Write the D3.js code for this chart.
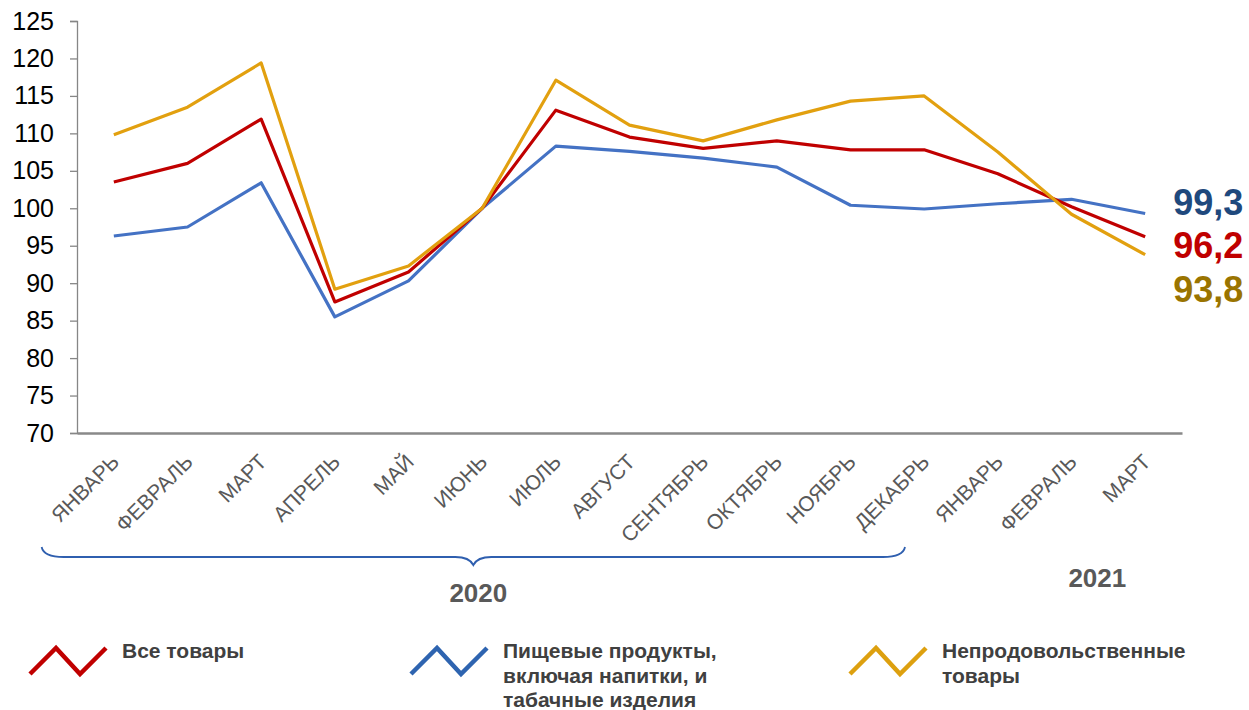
<!DOCTYPE html>
<html><head><meta charset="utf-8">
<script src="https://cdn.jsdelivr.net/npm/d3@7"></script>
<style>body{margin:0;background:#fff}svg{display:block}text{font-family:"Liberation Sans",Arial,sans-serif}</style>
</head><body>
<script>
const categories = ["ЯНВАРЬ","ФЕВРАЛЬ","МАРТ","АПРЕЛЬ","МАЙ","ИЮНЬ","ИЮЛЬ","АВГУСТ","СЕНТЯБРЬ","ОКТЯБРЬ","НОЯБРЬ","ДЕКАБРЬ","ЯНВАРЬ","ФЕВРАЛЬ","МАРТ"];
const allGoods   = [103.5,106.0,111.9,87.5,91.5,100.0,113.1,109.5,108.0,109.0,107.8,107.8,104.6,100.2,96.2];
const foodGoods  = [96.3,97.5,103.4,85.5,90.3,100.0,108.3,107.6,106.7,105.5,100.4,99.9,100.6,101.2,99.3];
const nonFood    = [109.8,113.5,119.4,89.2,92.3,100.0,117.1,111.1,109.0,111.8,114.3,115.0,107.5,99.2,93.8];
const yTicks = [70,75,80,85,90,95,100,105,110,115,120,125];
const endLabels = ["99,3","96,2","93,8"];
const seriesNames = ["Все товары", ["Пищевые продукты,","включая напитки, и","табачные изделия"], ["Непродовольственные","товары"]];
const years = ["2020","2021"];

const W = 1249, H = 710;
const svg = d3.select("body").append("svg").attr("width", W).attr("height", H);

const x = d3.scalePoint().domain(d3.range(categories.length)).range([77, 1182]).padding(0.5);
const y = d3.scaleLinear().domain([70, 125]).range([433, 21]);
const step = x.step();

// y axis
const yAxis = svg.append("g").attr("transform", "translate(77,0)")
  .call(d3.axisLeft(y).tickValues(yTicks).tickSize(7).tickPadding(16).tickFormat(d3.format("d")));
yAxis.select(".domain").attr("stroke", "#868686").attr("stroke-width", 1.3);
yAxis.selectAll(".tick line").attr("stroke", "#868686").attr("stroke-width", 1.3);
yAxis.selectAll(".tick text").attr("font-size", 25).attr("fill", "#000").attr("font-family", "Liberation Sans, Arial, sans-serif");

// x axis
const xAxis = svg.append("g").attr("transform", "translate(0,433)")
  .call(d3.axisBottom(x).tickSize(0).tickSizeOuter(0).tickFormat(i => categories[i]));
xAxis.select(".domain").attr("stroke", "#898989").attr("stroke-width", 2.5);
xAxis.selectAll(".tick text")
  .attr("font-size", 21).attr("fill", "#595959").attr("font-family", "Liberation Sans, Arial, sans-serif")
  .attr("text-anchor", "end").attr("dy", "0.35em").attr("y", 0)
  .attr("transform", "translate(1,25) rotate(-45)");

// lines
const line = d3.line().x((d, i) => x(i)).y(d => y(d));
const series = [
  {vals: foodGoods, color: "#4472C4"},
  {vals: allGoods, color: "#C00000"},
  {vals: nonFood, color: "#E2A00F"}
];
series.forEach(s => {
  svg.append("path").datum(s.vals).attr("d", line)
    .attr("fill", "none").attr("stroke", s.color).attr("stroke-width", 3.2)
    .attr("stroke-linejoin", "round");
});

// end labels
const last = categories.length - 1;
const endInfo = [
  {t: endLabels[0], v: foodGoods[last], c: "#1F497D", dy: 1},
  {t: endLabels[1], v: allGoods[last], c: "#C00000", dy: 21},
  {t: endLabels[2], v: nonFood[last], c: "#9A7400", dy: 47}
];
endInfo.forEach(e => {
  svg.append("text").attr("x", x(last) + 28).attr("y", y(e.v) + e.dy)
    .attr("font-size", 36).attr("font-weight", "bold").attr("fill", e.c).text(e.t);
});

// brace
const bl = x(0) - 0.98 * step, br = x(11) - 0.26 * step, bc = (bl + br) / 2;
const by = 557, btop = 547, btip = 565;
const p = d3.path();
p.moveTo(bl, btop);
p.quadraticCurveTo(bl + 2, by, bl + 22, by);
p.lineTo(bc - 18, by);
p.quadraticCurveTo(bc - 4, by, bc, btip);
p.quadraticCurveTo(bc + 4, by, bc + 18, by);
p.lineTo(br - 22, by);
p.quadraticCurveTo(br - 2, by, br, btop);
svg.append("path").attr("d", p.toString()).attr("fill", "none").attr("stroke", "#2F5FAF").attr("stroke-width", 1.8);

// years
svg.append("text").attr("x", bc + 5).attr("y", 602).attr("text-anchor", "middle")
  .attr("font-size", 26).attr("font-weight", "bold").attr("fill", "#595959").text(years[0]);
svg.append("text").attr("x", (x(13) + x(14)) / 2 - 11).attr("y", 587).attr("text-anchor", "middle")
  .attr("font-size", 26).attr("font-weight", "bold").attr("fill", "#595959").text(years[1]);

// legend
const legend = [
  {x: 30, color: "#C00000", name: seriesNames[0]},
  {x: 411, color: "#2E64B0", name: seriesNames[1]},
  {x: 850, color: "#DDA00F", name: seriesNames[2]}
];
legend.forEach(l => {
  const g = svg.append("g").attr("transform", `translate(${l.x},0)`);
  g.append("path").attr("d", d3.line()([[0,674],[26,648],[50,674],[76,648]]))
    .attr("fill", "none").attr("stroke", l.color).attr("stroke-width", 4.5);
  const lines = Array.isArray(l.name) ? l.name : [l.name];
  const t = g.append("text").attr("x", 92).attr("y", 658)
    .attr("font-size", 21).attr("font-weight", "bold").attr("fill", "#404040");
  lines.forEach((s, i) => t.append("tspan").attr("x", 92).attr("dy", i === 0 ? 0 : 24.5).text(s));
});
</script>
</body></html>
